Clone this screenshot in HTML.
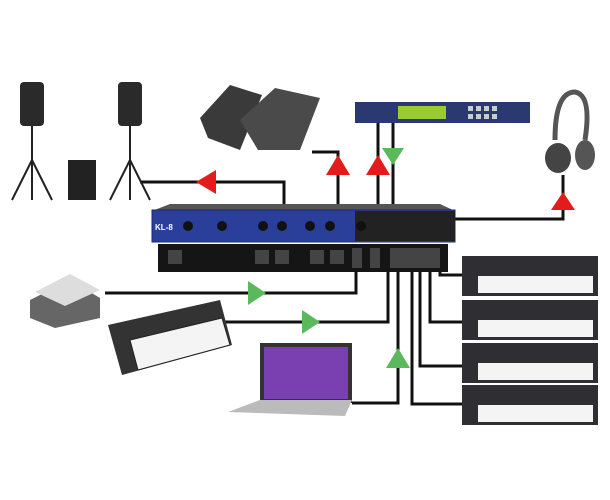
<!DOCTYPE html>
<html><head><style>body{margin:0;background:#fff}svg{display:block}</style></head><body>
<svg width="610" height="500" viewBox="0 0 610 500" xmlns="http://www.w3.org/2000/svg">
<g fill="none" stroke="#111" stroke-width="3">
<path d="M284 207V182H140"/>
<path d="M338 207V152H312"/>
<path d="M378 207V122"/>
<path d="M393 207V122"/>
<path d="M455 219H563V175"/>
<path d="M105 293H356V268"/>
<path d="M220 322H388V270"/>
<path d="M352 403H398V270"/>
<path d="M412 270V404H470"/>
<path d="M420 270V366H470"/>
<path d="M430 270V322H470"/>
<path d="M440 270V275H470"/>
</g>
<g fill="#e31b1b">
<polygon points="196,182 216,170 216,194"/>
<polygon points="338,155 326,175 350,175"/>
<polygon points="378,155 366,175 390,175"/>
<polygon points="563,192 551,210 575,210"/>
</g>
<g fill="#5cb85c">
<polygon points="382,148 404,148 393,165"/>
<polygon points="266,293 248,281 248,305"/>
<polygon points="320,322 302,310 302,334"/>
<polygon points="398,348 386,368 410,368"/>
<polygon points="462,275 480,264 480,286"/>
<polygon points="462,322 480,311 480,333"/>
<polygon points="462,366 480,355 480,377"/>
<polygon points="462,404 480,393 480,415"/>
</g>
<!-- mixer -->
<polygon points="170,204 440,204 455,211 152,211" fill="#555"/>
<rect x="152" y="210" width="303" height="32" fill="#2a3f9a" stroke="#1a2870"/>
<rect x="355" y="211" width="100" height="30" fill="#222"/>
<g fill="#111"><circle cx="188" cy="226" r="5"/><circle cx="222" cy="226" r="5"/><circle cx="263" cy="226" r="5"/><circle cx="282" cy="226" r="5"/><circle cx="310" cy="226" r="5"/><circle cx="330" cy="226" r="5"/><circle cx="361" cy="226" r="5"/></g>
<text x="155" y="230" fill="#fff" font-family="Liberation Sans,sans-serif" font-size="8" font-weight="bold">KL-8</text>
<rect x="158" y="244" width="290" height="28" fill="#151515"/>
<g fill="#444"><rect x="168" y="250" width="14" height="14"/><rect x="255" y="250" width="14" height="14"/><rect x="275" y="250" width="14" height="14"/><rect x="310" y="250" width="14" height="14"/><rect x="330" y="250" width="14" height="14"/><rect x="352" y="248" width="10" height="20"/><rect x="370" y="248" width="10" height="20"/><rect x="390" y="248" width="50" height="20"/></g>
<!-- speakers -->
<g stroke="#222" stroke-width="2" fill="none"><path d="M32 125V200M32 160L12 200M32 160L52 200M130 125V200M130 160L110 200M130 160L150 200"/></g>
<rect x="20" y="82" width="24" height="44" rx="4" fill="#2a2a2a"/>
<rect x="118" y="82" width="24" height="44" rx="4" fill="#2a2a2a"/>
<rect x="68" y="160" width="28" height="40" fill="#222"/>
<!-- monitors -->
<polygon points="200,118 230,85 262,95 240,150 208,138" fill="#3a3a3a"/>
<polygon points="240,120 275,88 320,98 300,150 258,150" fill="#4a4a4a"/>
<!-- rack -->
<rect x="355" y="102" width="175" height="21" fill="#2a3a70"/>
<rect x="398" y="106" width="48" height="13" fill="#9c3"/>
<g fill="#ccc"><rect x="468" y="106" width="5" height="5"/><rect x="476" y="106" width="5" height="5"/><rect x="484" y="106" width="5" height="5"/><rect x="492" y="106" width="5" height="5"/><rect x="468" y="114" width="5" height="5"/><rect x="476" y="114" width="5" height="5"/><rect x="484" y="114" width="5" height="5"/><rect x="492" y="114" width="5" height="5"/></g>
<!-- headphones -->
<path d="M555 140Q555 92 575 92Q592 95 585 140" fill="none" stroke="#555" stroke-width="5"/>
<ellipse cx="558" cy="158" rx="13" ry="15" fill="#444"/>
<ellipse cx="585" cy="155" rx="10" ry="15" fill="#555"/>
<!-- pedal -->
<polygon points="30,300 70,280 100,298 100,318 55,328 30,318" fill="#666"/>
<polygon points="35,292 70,274 100,290 65,306" fill="#ddd"/>
<!-- midi controller -->
<polygon points="108,325 220,300 232,345 122,375" fill="#333"/>
<polygon points="130,340 222,318 230,345 138,370" fill="#f4f4f4" stroke="#222"/>
<!-- laptop -->
<rect x="260" y="343" width="92" height="60" fill="#333"/>
<rect x="264" y="347" width="84" height="52" fill="#7a3fb0"/>
<polygon points="228,412 260,400 352,400 345,416" fill="#bbb"/>
<!-- keyboards -->
<g>
<rect x="462" y="256" width="136" height="40" fill="#2e2e33"/><rect x="478" y="276" width="115" height="17" fill="#f4f4f4"/>
<rect x="462" y="300" width="136" height="40" fill="#2e2e33"/><rect x="478" y="320" width="115" height="17" fill="#f4f4f4"/>
<rect x="462" y="343" width="136" height="40" fill="#2e2e33"/><rect x="478" y="363" width="115" height="17" fill="#f4f4f4"/>
<rect x="462" y="385" width="136" height="40" fill="#2e2e33"/><rect x="478" y="405" width="115" height="17" fill="#f4f4f4"/>
</g>
</svg>
</body></html>
